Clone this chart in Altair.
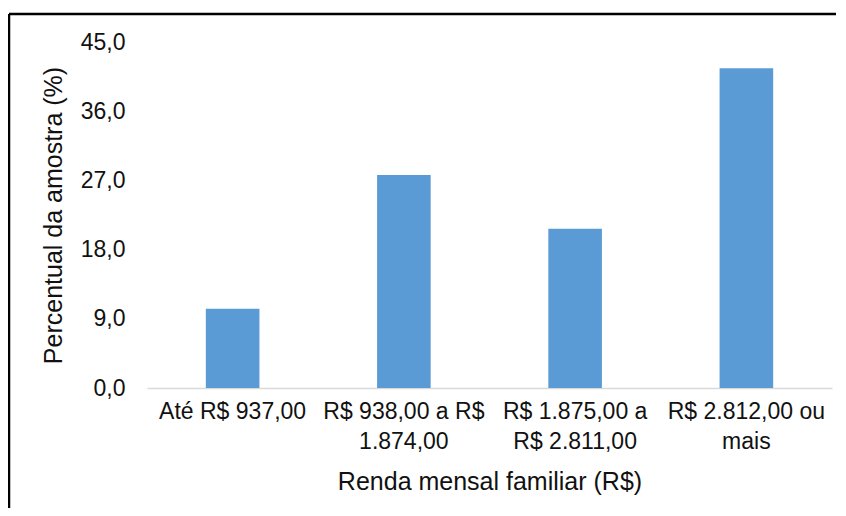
import altair as alt
import pandas as pd

categories = ["Até R$ 937,00", "R$ 938,00 a R$\n1.874,00", "R$ 1.875,00 a\nR$ 2.811,00", "R$ 2.812,00 ou\nmais"]
values = [10.3, 27.7, 20.7, 41.6]
y_ticks = [0, 9, 18, 27, 36, 45]

df = pd.DataFrame({"cat": categories, "pct": values})

bars = alt.Chart(df).mark_bar(color="#5B9BD5").encode(
    x=alt.X(
        "cat:N",
        sort=categories,
        scale=alt.Scale(paddingInner=0.687, paddingOuter=0.3435),
        axis=alt.Axis(
            title="Renda mensal familiar (R$)",
            labelAngle=0,
            labelExpr="split(datum.label, '\\n')",
            labelLineHeight=30,
            labelPadding=12,
            labelFontSize=23,
            titleFontSize=25,
            titlePadding=16,
            ticks=False,
            domainColor="#D9D9D9",
            domainWidth=1.5,
            labelColor="#111111",
            titleColor="#111111",
            labelFont="Liberation Sans",
            titleFont="Liberation Sans",
            titleFontWeight="normal",
        ),
    ),
    y=alt.Y(
        "pct:Q",
        scale=alt.Scale(domain=[0, 45], nice=False),
        axis=alt.Axis(
            title="Percentual da amostra (%)",
            values=y_ticks,
            labelExpr="replace(format(datum.value, '.1f'), '.', ',')",
            domain=False,
            ticks=False,
            grid=False,
            labelPadding=22,
            labelFontSize=23,
            titleFontSize=25,
            titlePadding=14,
            labelColor="#111111",
            titleColor="#111111",
            labelFont="Liberation Sans",
            titleFont="Liberation Sans",
            titleFontWeight="normal",
        ),
    ),
)

one = pd.DataFrame({"a": [0]})
frame_top = alt.Chart(one).mark_rule(color="#000000", strokeWidth=2.5).encode(
    x=alt.value(-138), x2=alt.value(689), y=alt.value(-28)
)
frame_left = alt.Chart(one).mark_rule(color="#000000", strokeWidth=2.5).encode(
    x=alt.value(-138), y=alt.value(-28), y2=alt.value(466)
)

chart = alt.layer(frame_top, frame_left, bars).properties(
    width=685,
    height=346,
    autosize=alt.AutoSizeParams(type="none"),
    padding={"left": 139, "top": 34, "right": 6, "bottom": 120},
).configure(background="white").configure_view(strokeWidth=0, stroke="transparent")

chart.save("out.html", embed_options={"renderer": "svg", "actions": False})
